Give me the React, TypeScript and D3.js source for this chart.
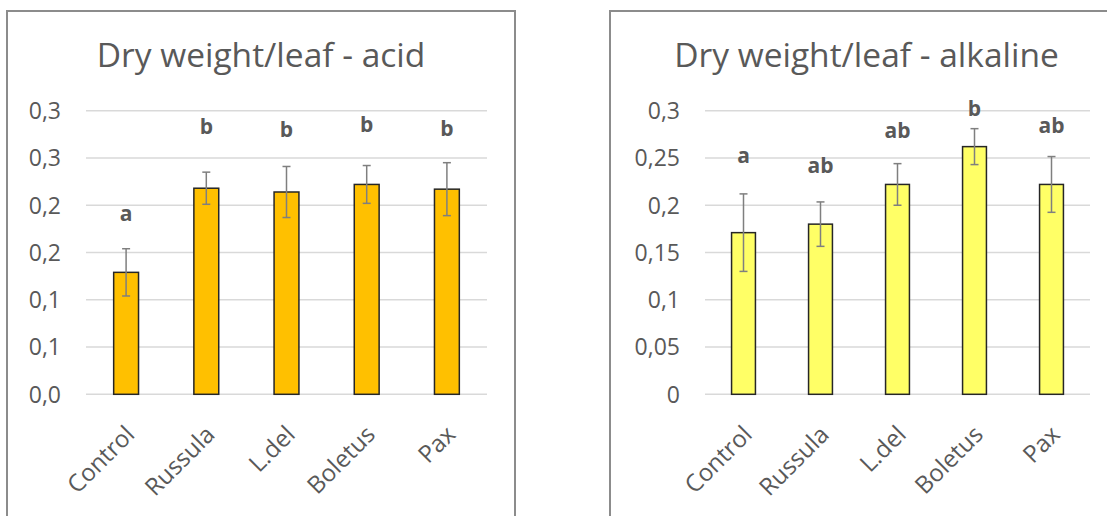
import React from 'react';
import * as d3 from 'd3';

// categories and values
const categories = ['Control', 'Russula', 'L.del', 'Boletus', 'Pax'];

const acidMeans = [0.129, 0.218, 0.214, 0.222, 0.217];
const acidErrors = [0.025, 0.017, 0.027, 0.02, 0.028];
const acidLetters = ['a', 'b', 'b', 'b', 'b'];
const acidLetterAt = [0.183, 0.275, 0.272, 0.277, 0.273];

const alkMeans = [0.171, 0.18, 0.222, 0.262, 0.222];
const alkErrors = [0.041, 0.0235, 0.022, 0.019, 0.0295];
const alkLetters = ['a', 'ab', 'ab', 'b', 'ab'];
const alkLetterAt = [0.245, 0.234, 0.271, 0.294, 0.276];

const yTicks = [0, 0.05, 0.1, 0.15, 0.2, 0.25, 0.3];
const acidTickLabels = ['0,0', '0,1', '0,1', '0,2', '0,2', '0,3', '0,3'];
const alkTickLabels = ['0', '0,05', '0,1', '0,15', '0,2', '0,25', '0,3'];

const FONT = '"Open Sans", sans-serif';
const TEXT = '#595959';

type PanelProps = {
  title: string;
  means: number[];
  errors: number[];
  letters: string[];
  letterAt: number[];
  tickLabels: string[];
  color: string;
  box: [number, number]; // left / right edge of the frame
  plot: [number, number]; // left / right of the plot area
};

const Panel = ({ title, means, errors, letters, letterAt, tickLabels, color, box, plot }: PanelProps) => {
  const x = d3.scaleBand<string>().domain(categories).range(plot).paddingInner(0.69).paddingOuter(0.345);
  const y = d3.scaleLinear().domain([0, 0.3]).range([394.3, 110.7]);
  const bw = x.bandwidth();
  const cap = 4;

  return (
    <g>
      {/* frame */}
      <rect x={box[0]} y={11} width={box[1] - box[0]} height={520} fill="#fff" stroke="#8c8c8c" strokeWidth={2} />
      <text x={(box[0] + box[1]) / 2} y={66.5} textAnchor="middle" fontFamily={FONT} fontSize={33.5} fill={TEXT}>
        {title}
      </text>

      {/* grid + y ticks */}
      {yTicks.map((t, i) => (
        <g key={i}>
          <line x1={plot[0]} x2={plot[1]} y1={y(t)} y2={y(t)} stroke="#d9d9d9" strokeWidth={1.5} />
          <text x={plot[0] - 25} y={y(t)} dy="0.36em" textAnchor="end" fontFamily={FONT} fontSize={23} fill={TEXT}>
            {tickLabels[i]}
          </text>
        </g>
      ))}

      {/* bars */}
      {categories.map((c, i) => (
        <rect key={c} x={x(c)} y={y(means[i])} width={bw} height={y(0) - y(means[i])} fill={color} stroke="#262626" strokeWidth={1.5} />
      ))}

      {/* error bars */}
      {categories.map((c, i) => {
        const cx = (x(c) as number) + bw / 2;
        const hi = y(means[i] + errors[i]);
        const lo = y(means[i] - errors[i]);
        return (
          <g key={c} stroke="#7f7f7f" strokeWidth={1.5}>
            <line x1={cx} x2={cx} y1={hi} y2={lo} />
            <line x1={cx - cap} x2={cx + cap} y1={hi} y2={hi} />
            <line x1={cx - cap} x2={cx + cap} y1={lo} y2={lo} />
          </g>
        );
      })}

      {/* significance letters */}
      {categories.map((c, i) => (
        <text key={c} x={(x(c) as number) + bw / 2} y={y(letterAt[i])} textAnchor="middle" fontFamily={FONT} fontWeight="bold" fontSize={21} fill={TEXT}>
          {letters[i]}
        </text>
      ))}

      {/* category labels */}
      {categories.map((c) => {
        const cx = (x(c) as number) + bw / 2;
        return (
          <text key={c} transform={`translate(${cx + 10},${436}) rotate(-45)`} textAnchor="end" fontFamily={FONT} fontSize={24} fill={TEXT}>
            {c}
          </text>
        );
      })}
    </g>
  );
};

export default function App() {
  return (
    <svg width={1107} height={516} style={{ position: 'absolute', left: 0, top: 0, background: '#fff' }}>
      <Panel
        title="Dry weight/leaf - acid"
        means={acidMeans}
        errors={acidErrors}
        letters={acidLetters}
        letterAt={acidLetterAt}
        tickLabels={acidTickLabels}
        color="#ffc000"
        box={[7, 515]}
        plot={[86, 487]}
      />
      <Panel
        title="Dry weight/leaf - alkaline"
        means={alkMeans}
        errors={alkErrors}
        letters={alkLetters}
        letterAt={alkLetterAt}
        tickLabels={alkTickLabels}
        color="#ffff66"
        box={[610, 1123]}
        plot={[705, 1090]}
      />
    </svg>
  );
}
